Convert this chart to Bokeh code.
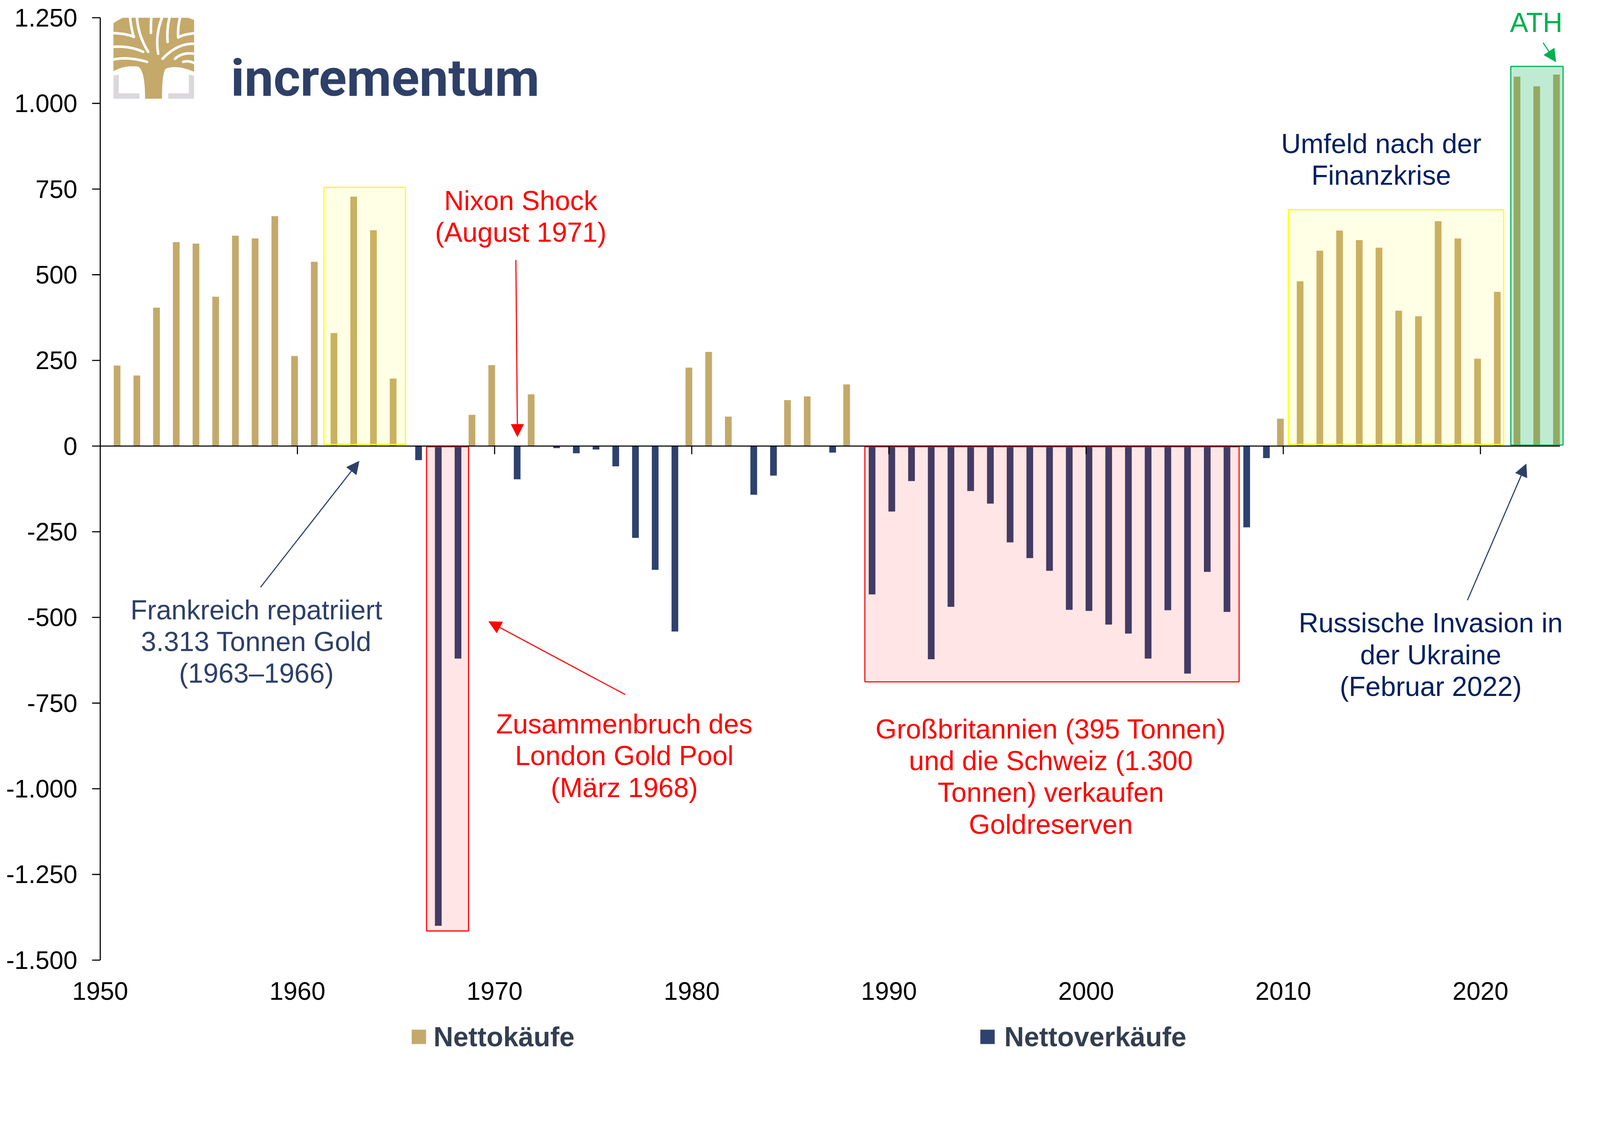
from bokeh.plotting import figure
from bokeh.models import Range1d, Arrow, NormalHead, ColumnDataSource
from bokeh.embed import file_html
from bokeh.resources import INLINE
from bokeh.core.properties import value

# ---------------- data ----------------
years = list(range(1951, 2025))
net = [235, 206, 404, 595, 591, 436, 614, 606, 671, 263, 538, 330, 728, 630, 197,   # 1951-1965
       -41, -1400, -620, 91, 236, -97, 151, -6, -21, -10, -59, -268, -361, -541,    # 1966-1979
       229, 275, 86, -142, -86, 134, 145, -19, 180,                                 # 1980-1988
       -433, -191, -102, -622, -469, -131, -168, -281, -327, -364,                  # 1989-1998
       -478, -481, -521, -547, -620, -479, -664, -367, -484, -237, -35,             # 1999-2009
       80, 481, 570, 629, 601, 579, 395, 379, 656, 606, 255, 450,                   # 2010-2021
       1078, 1050, 1084]                                                            # 2022-2024

series_names = ["Nettokäufe", "Nettoverkäufe"]
ytick_values = [-1500, -1250, -1000, -750, -500, -250, 0, 250, 500, 750, 1000, 1250]
ytick_labels = ["-1.500", "-1.250", "-1.000", "-750", "-500", "-250", "0",
                "250", "500", "750", "1.000", "1.250"]
xtick_values = [1950, 1960, 1970, 1980, 1990, 2000, 2010, 2020]
xtick_labels = ["1950", "1960", "1970", "1980", "1990", "2000", "2010", "2020"]

GOLD = "#C4A96B"
NAVY = "#2E4270"
RED = "#FF0000"
GREEN = "#00B050"
DARKNAVY = "#002060"
SLATE = "#2E4068"
LEGEND_TXT = "#333F50"
FONT = "Liberation Sans"

S = 1 / 1.058          # page scale correction


def px(v):
    return int(round(v * S))


def fs(v):
    return f"{v * S:.1f}px"


# ---------------- geometry (reference pixels) ----------------
W0, H0 = 4260, 2862
X0 = 271.0             # pixel of year 1950 (y axis)
KX = 3963 / 74.2       # pixels per year
Y0 = 47.5              # pixel of value 1250 (top of axis)
KY = 2553 / 2750       # pixels per unit

x_range = Range1d(1950 - X0 / KX, 1950 + (W0 - X0) / KX)
y_range = Range1d(1250 - (H0 - Y0) / KY, 1250 + Y0 / KY)

p = figure(width=px(W0), height=px(H0), output_backend="svg", toolbar_location=None,
           x_range=x_range, y_range=y_range, x_axis_type=None, y_axis_type=None,
           min_border=0)
p.grid.visible = False
p.outline_line_color = None
p.background_fill_color = "white"
p.border_fill_color = "white"

LW = 3 * S
XU = 1 / KX            # years per reference pixel
YU = 1 / KY            # units per reference pixel

# ---------------- bars ----------------
GOLD_OFF, NAVY_OFF, BAR_W = -0.145, 0.145, 0.34
pos_src = ColumnDataSource(dict(
    x=[y + GOLD_OFF for y, v in zip(years, net) if v > 0],
    top=[v for v in net if v > 0]))
neg_src = ColumnDataSource(dict(
    x=[y + NAVY_OFF for y, v in zip(years, net) if v < 0],
    top=[v for v in net if v < 0]))
p.vbar(x="x", top="top", bottom=0, width=BAR_W, source=pos_src,
       fill_color=GOLD, line_color=None)
p.vbar(x="x", top="top", bottom=0, width=BAR_W, source=neg_src,
       fill_color=NAVY, line_color=None)

# ---------------- highlight boxes ----------------
p.quad(left=[1961.34, 2010.26], right=[1965.48, 2021.18], bottom=[5, 5], top=[755, 690],
       fill_color="#FFFF00", fill_alpha=0.1, line_color="#FFFF00", line_width=LW)
p.quad(left=[1966.55, 1988.78], right=[1968.68, 2007.76], bottom=[-1415, -688], top=[-2, -2],
       fill_color=RED, fill_alpha=0.1, line_color=RED, line_width=LW)
p.quad(left=[2021.54], right=[2024.19], bottom=[3], top=[1108],
       fill_color=GREEN, fill_alpha=0.25, line_color=GREEN, line_width=LW)

# ---------------- axes (drawn by hand) ----------------
p.segment(x0=[1950], y0=[0], x1=[2024.03], y1=[0], line_color="black", line_width=LW)
tk = [t for t in xtick_values if t > 1950]
p.segment(x0=tk, y0=[0] * len(tk), x1=tk, y1=[-22 * YU] * len(tk), line_color="black",
          line_width=LW)
p.segment(x0=[1950], y0=[ytick_values[0]], x1=[1950], y1=[ytick_values[-1]],
          line_color="black", line_width=LW)
p.segment(x0=[1950] * len(ytick_values), y0=ytick_values,
          x1=[1950 - 22 * XU] * len(ytick_values), y1=ytick_values,
          line_color="black", line_width=LW)
p.text(x=[1950 - 62 * XU] * len(ytick_values), y=ytick_values, text=ytick_labels,
       text_font=value(FONT), text_font_size=fs(68), text_color="black",
       text_align="right", text_baseline="middle")
p.text(x=xtick_values, y=[-1590] * len(xtick_values), text=xtick_labels,
       text_font=value(FONT), text_font_size=fs(68), text_color="black",
       text_align="center", text_baseline="middle")

# ---------------- annotations ----------------
def txt(x, y, s, color):
    p.text(x=[x], y=[y], text=[s], text_font=value(FONT), text_font_size=fs(74),
           text_color=color, text_align="center", text_baseline="middle",
           text_line_height=1.04)


txt(1971.33, 670, "Nixon Shock\n(August 1971)", RED)
txt(2014.97, 836, "Umfeld nach der\nFinanzkrise", DARKNAVY)
txt(1957.92, -571, "Frankreich repatriiert\n3.313 Tonnen Gold\n(1963–1966)", SLATE)
txt(1976.58, -904, "Zusammenbruch des\nLondon Gold Pool\n(März 1968)", RED)
txt(1998.21, -965, "Großbritannien (395 Tonnen)\nund die Schweiz (1.300\nTonnen) verkaufen\nGoldreserven", RED)
txt(2017.48, -609, "Russische Invasion in\nder Ukraine\n(Februar 2022)", DARKNAVY)
txt(2022.83, 1236, "ATH", GREEN)


def arrow(x0, y0, x1, y1, color):
    p.add_layout(Arrow(end=NormalHead(size=px(34), fill_color=color, line_color=color,
                                      line_width=1),
                       x_start=x0, y_start=y0, x_end=x1, y_end=y1,
                       line_color=color, line_width=LW))


arrow(1971.08, 543, 1971.16, 27, RED)
arrow(1958.13, -412, 1963.13, -44, SLATE)
arrow(1976.62, -725, 1969.70, -512, RED)
arrow(2019.34, -450, 2022.32, -52, SLATE)
arrow(2023.18, 1177, 2023.83, 1121, GREEN)

# ---------------- logo ----------------
LX0, LX1 = 1950.67, 1954.76
LY0, LY1 = 1013.7, 1250.0


def lxy(pts):
    xs = [LX0 + (zx - 52) / 645 * (LX1 - LX0) for zx, zy in pts]
    ys = [LY0 + (1 - (zy - 57) / 648) * (LY1 - LY0) for zx, zy in pts]
    return xs, ys


def qc(a, c, b, n=14):
    out = []
    for i in range(n + 1):
        t = i / n
        out.append(((1 - t) ** 2 * a[0] + 2 * (1 - t) * t * c[0] + t * t * b[0],
                    (1 - t) ** 2 * a[1] + 2 * (1 - t) * t * c[1] + t * t * b[1]))
    return out


gold_shape = ([(52, 57), (697, 57), (697, 490)] + qc((697, 490), (560, 430), (470, 465))
              + qc((470, 465), (440, 500), (440, 705)) + [(305, 705)]
              + qc((305, 705), (305, 480), (250, 448)) + qc((250, 448), (140, 435), (52, 485)))
gx, gy = lxy(gold_shape)
p.patch(gx, gy, fill_color=GOLD, line_color=None)

for poly in [[(52, 57)] + qc((128, 57), (80, 80), (52, 102)),
             [(697, 57)] + qc((697, 75), (665, 62), (645, 57))]:
    wx, wy = lxy(poly)
    p.patch(wx, wy, fill_color="white", line_color=None)

gaps = [
    ((52, 180), (160, 185), (215, 210)),
    ((185, 57), (195, 150), (215, 210)),
    ((52, 290), (180, 280), (290, 330)),
    ((240, 57), (250, 200), (330, 330)),
    ((52, 392), (160, 365), (320, 410)),
    ((355, 57), (350, 120), (352, 178)),
    ((440, 57), (385, 200), (410, 345)),
    ((500, 57), (478, 150), (485, 250)),
    ((585, 57), (565, 130), (570, 215)),
    ((697, 182), (610, 190), (570, 215)),
    ((697, 265), (560, 262), (445, 385)),
    ((697, 345), (600, 332), (545, 385)),
    ((697, 420), (655, 398), (610, 410)),
]
gxs, gys = [], []
for a, c, b in gaps:
    xs, ys = lxy(qc(a, c, b))
    gxs.append(xs)
    gys.append(ys)
p.multi_line(gxs, gys, line_color="white", line_width=7 * S, line_cap="round")

for poly in [[(52, 520), (95, 512), (95, 662), (260, 662), (260, 705), (52, 705)],
             [(655, 512), (697, 520), (697, 705), (490, 705), (490, 662), (655, 662)]]:
    bx, by = lxy(poly)
    p.patch(bx, by, fill_color="#DAD8DC", line_color=None)

p.text(x=[1956.62], y=[1074], text=["incrementum"], text_font=value("Roboto"),
       text_font_style="bold", text_font_size=fs(140), text_color="#2E4068",
       text_align="left", text_baseline="alphabetic")

# ---------------- legend (drawn by hand) ----------------
LEG_Y = -1724
p.scatter(x=[1966.16, 1995.0], y=[LEG_Y, LEG_Y], marker="square", size=39 * S,
          fill_color=[GOLD, NAVY], line_color=None)
p.text(x=[1966.9, 1995.85], y=[LEG_Y, LEG_Y], text=series_names,
       text_font=value(FONT), text_font_style="bold", text_font_size=fs(74),
       text_color=LEGEND_TXT, text_align="left", text_baseline="middle")

open("out.html", "w").write(file_html(p, INLINE))
